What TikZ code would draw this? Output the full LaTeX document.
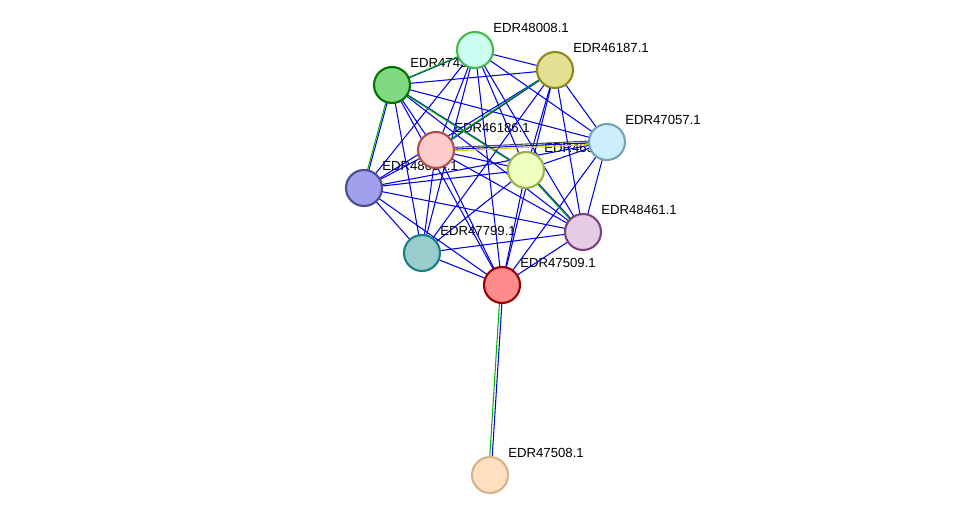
\documentclass[tikz,border=0pt]{standalone}
\usepackage{fontspec}
\setmainfont{Liberation Sans}
\usetikzlibrary{positioning}
\tikzset{
  prot/.style={circle, draw, line width=1.2pt, minimum size=0.72cm, inner sep=0pt},
  lbl/.style={anchor=west, inner sep=0pt, font=\fontsize{7.5}{8}\selectfont},
  ppi/.style={draw=blue!90!black, line width=0.6pt},
  coexp/.style={draw=green!70!black, line width=0.6pt},
}
\begin{document}
\begin{tikzpicture}[x=0.02cm, y=-0.02cm]
    \useasboundingbox (0,0) rectangle (975,520);
    % Labels (drawn first, partly covered)
    \foreach \nm/\px/\py in {EDR48008.1/475/50, EDR46187.1/555/70, EDR47432.1/392/85,
        EDR46186.1/436/150, EDR46388.1/526/170, EDR47057.1/607/142, EDR48004.1/364/188,
        EDR48461.1/583/232, EDR47799.1/422/253, EDR47509.1/502/285, EDR47508.1/490/475}
      \node[lbl] at (\px+18, \py-22) {\nm};
    % Proteins
    \coordinate (c48008) at (475,50);
    \coordinate (c46187) at (555,70);
    \coordinate (c47432) at (392,85);
    \coordinate (c46186) at (436,150);
    \coordinate (c46388) at (526,170);
    \coordinate (c47057) at (607,142);
    \coordinate (c48004) at (364,188);
    \coordinate (c48461) at (583,232);
    \coordinate (c47799) at (422,253);
    \coordinate (c47509) at (502,285);
    \coordinate (c47508) at (490,475);
    % Interactions
    \foreach \a/\b in {48008/46187, 48008/47432, 48008/46186, 48008/46388, 48008/47057,
        48008/48004, 48008/48461, 48008/47799, 48008/47509,
        46187/47432, 46187/46186, 46187/46388, 46187/47057, 46187/48004, 46187/48461,
        46187/47799, 46187/47509,
        47432/46186, 47432/46388, 47432/47057, 47432/48004, 47432/48461, 47432/47799, 47432/47509,
        46186/46388, 46186/47057, 46186/48004, 46186/48461, 46186/47799, 46186/47509,
        46388/47057, 46388/48004, 46388/48461, 46388/47799, 46388/47509,
        47057/48004, 47057/48461, 47057/47509,
        48004/48461, 48004/47799, 48004/47509,
        48461/47799, 48461/47509, 47799/47509}
      \draw[ppi] (c\a) -- (c\b);
    \foreach \a/\b in {47432/48008, 47432/48004, 47432/46388, 46187/46186, 46388/48461,
        47509/47508}
      \draw[coexp, transform canvas={xshift=-0.8pt}] (c\a) -- (c\b);
    \draw[ppi, transform canvas={xshift=0.6pt}] (c47509) -- (c47508);
    \draw[yellow!70!olive, line width=0.6pt, transform canvas={yshift=-1pt}] (c46186) -- (c47057);
    \draw[black!70, line width=0.6pt, transform canvas={yshift=1pt}] (c46186) -- (c47057);
    \node[prot, fill=green!25!cyan!20, draw=green!45!gray] (n48008) at (c48008) {};
    \node[prot, fill=yellow!60!gray!60, draw=olive!80!gray] (n46187) at (c46187) {};
    \node[prot, fill=green!40!white!85!black, draw=green!45!black] (n47432) at (c47432) {};
    \node[prot, fill=red!20, draw=red!40!gray] (n46186) at (c46186) {};
    \node[prot, fill=lime!25, draw=lime!40!gray] (n46388) at (c46388) {};
    \node[prot, fill=cyan!20, draw=cyan!40!gray] (n47057) at (c47057) {};
    \node[prot, fill=blue!35!white!85!gray, draw=blue!40!black!70] (n48004) at (c48004) {};
    \node[prot, fill=violet!20, draw=violet!50!gray] (n48461) at (c48461) {};
    \node[prot, fill=teal!40, draw=teal!80!gray] (n47799) at (c47799) {};
    \node[prot, fill=red!45, draw=red!60!black] (n47509) at (c47509) {};
    \node[prot, fill=orange!25, draw=brown!60] (n47508) at (c47508) {};
\end{tikzpicture}
\end{document}
